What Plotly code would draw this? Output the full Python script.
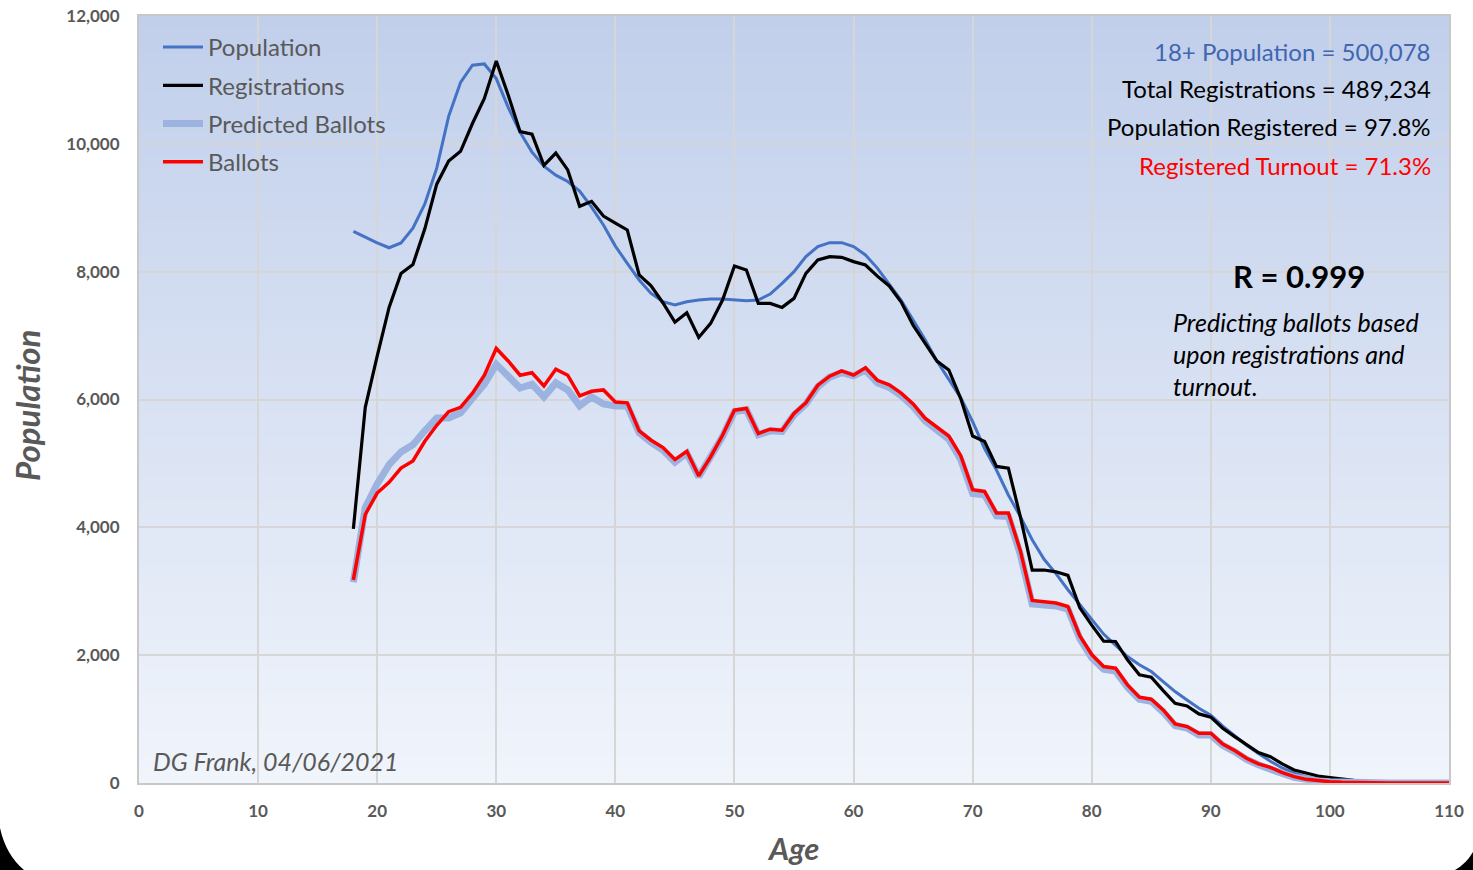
import plotly.graph_objects as go

ages = list(range(18, 111))

population = [8630, 8540, 8450, 8374, 8450, 8680, 9060, 9620, 10430, 10960,
              11230, 11250, 11020, 10570, 10180, 9870, 9650, 9510, 9410, 9260,
              9010, 8730, 8400, 8130, 7870, 7660, 7530, 7480, 7530, 7556,
              7572, 7572, 7556, 7546, 7556, 7650, 7817, 8000, 8235, 8392,
              8454, 8454, 8392, 8261, 8056, 7804, 7553, 7245, 6938, 6602,
              6323, 6026, 5652, 5232, 4897, 4506, 4170, 3807, 3500, 3276,
              3024, 2800, 2560, 2330, 2162, 1979, 1849, 1744, 1587, 1431,
              1300, 1170, 1060, 890, 740, 590, 460, 340, 235, 155,
              100, 65, 42, 26, 16, 9, 5, 3, 2, 1, 1, 0, 0]

registrations = [3977, 5877, 6680, 7441, 7972, 8112, 8670, 9369, 9732, 9883,
                 10318, 10710, 11296, 10765, 10190, 10151, 9665, 9855, 9592, 9022,
                 9100, 8870, 8760, 8653, 7948, 7780, 7510, 7210, 7358, 6971,
                 7191, 7556, 8089, 8026, 7504, 7504, 7441, 7582, 7974, 8183,
                 8235, 8224, 8157, 8104, 7930, 7776, 7525, 7161, 6882, 6602,
                 6463, 6015, 5428, 5344, 4953, 4925, 4170, 3332, 3332, 3304,
                 3248, 2740, 2470, 2220, 2214, 1927, 1692, 1655, 1446, 1248,
                 1206, 1081, 1030, 856, 726, 595, 475, 412, 298, 204,
                 151, 110, 84, 60, 40, 25, 15, 8, 5, 3, 2, 1, 0]

predicted_ballots = [3140, 4310, 4680, 4980, 5180, 5290, 5510, 5710, 5710, 5790,
                     6020, 6240, 6550, 6350, 6180, 6240, 6040, 6260, 6150, 5900,
                     6040, 5930, 5900, 5900, 5480, 5330, 5210, 5020, 5160, 4790,
                     5080, 5420, 5810, 5840, 5450, 5510, 5500, 5760, 5930, 6200,
                     6350, 6420, 6370, 6460, 6260, 6190, 6060, 5890, 5670, 5520,
                     5380, 5060, 4530, 4510, 4180, 4170, 3580, 2800, 2790, 2770,
                     2720, 2260, 1960, 1780, 1750, 1500, 1310, 1280, 1110, 900,
                     860, 750, 750, 590, 490, 370, 285, 230, 150, 90,
                     50, 30, 18, 10, 5, 3, 2, 1, 1, 0, 0, 0, 0]

ballots = [3178, 4201, 4536, 4704, 4927, 5039, 5346, 5597, 5810, 5877,
           6100, 6380, 6799, 6603, 6380, 6419, 6212, 6475, 6380, 6056,
           6128, 6150, 5962, 5948, 5509, 5363, 5248, 5060, 5190, 4804,
           5101, 5441, 5833, 5859, 5467, 5535, 5520, 5781, 5948, 6224,
           6365, 6449, 6381, 6496, 6300, 6228, 6099, 5931, 5708, 5568,
           5428, 5121, 4590, 4562, 4226, 4226, 3639, 2856, 2840, 2817,
           2761, 2300, 2010, 1822, 1796, 1535, 1342, 1311, 1144, 924,
           883, 778, 778, 611, 507, 386, 298, 245, 162, 99,
           57, 37, 21, 12, 6, 3, 2, 1, 1, 0, 0, 0, 0]

x_ticks = [0, 10, 20, 30, 40, 50, 60, 70, 80, 90, 100, 110]
y_ticks = [0, 2000, 4000, 6000, 8000, 10000, 12000]

stats_lines = ["18+ Population = 500,078", "Total Registrations = 489,234",
               "Population Registered = 97.8%", "Registered Turnout = 71.3%"]
stats_colors = ["#3f66b0", "#000000", "#000000", "#ff0000"]
note_lines = ["Predicting ballots based", "upon registrations and", "turnout."]

W, H = 1473, 870
L, R, T, B = 139, 24, 16, 87
PW, PH = W - L - R, H - T - B

def px(xp):
    return (xp - L) / PW

def py(yp):
    return (H - B - yp) / PH

FONT = "Lato"
GRAY = "#595959"

fig = go.Figure()
fig.add_trace(go.Scatter(x=ages, y=population, name="Population", mode="lines",
                         line=dict(color="#4472c4", width=3), legendgroup="a"))
fig.add_trace(go.Scatter(x=ages, y=registrations, name="Registrations", mode="lines",
                         line=dict(color="#000000", width=3.2), legendgroup="b"))
fig.add_trace(go.Scatter(x=ages, y=predicted_ballots, name="Predicted Ballots", mode="lines",
                         line=dict(color="#9cb3df", width=7), legendgroup="c"))
fig.add_trace(go.Scatter(x=ages, y=ballots, name="Ballots", mode="lines",
                         line=dict(color="#ff0000", width=3.5), legendgroup="d"))

# gradient background
shapes = []
n = 60
top = (193, 207, 235)
bot = (240, 244, 251)
for i in range(n):
    t = i / (n - 1)
    c = tuple(int(round(top[k] + (bot[k] - top[k]) * t)) for k in range(3))
    shapes.append(dict(type="rect", xref="x domain", yref="y domain",
                       x0=0, x1=1, y0=1 - (i + 1) / n, y1=1 - i / n + 0.001,
                       fillcolor="rgb(%d,%d,%d)" % c, line=dict(width=0), layer="below"))
# black frame corners (photo artifact)
shapes.append(dict(type="path", xref="paper", yref="paper",
                   path="M %f %f Q %f %f %f %f L %f %f Z" % (
                       px(0), py(828), px(6), py(855), px(24), py(870), px(0), py(870)),
                   fillcolor="#000000", line=dict(width=0), layer="above"))
shapes.append(dict(type="path", xref="paper", yref="paper",
                   path="M %f %f Q %f %f %f %f L %f %f Z" % (
                       px(1473), py(852), px(1466), py(864), px(1455), py(870), px(1473), py(870)),
                   fillcolor="#000000", line=dict(width=0), layer="above"))

ann = []
ys = [52, 88, 127, 165]
for txt, col, yy in zip(stats_lines, stats_colors, ys):
    ann.append(dict(text=txt, x=px(1433), y=py(yy), xref="paper", yref="paper",
                    xanchor="right", yanchor="middle", showarrow=False,
                    font=dict(family=FONT, size=24, color=col)))
ann.append(dict(text="<b>R = 0.999</b>", x=px(1299), y=py(276), xref="paper", yref="paper",
                xanchor="center", yanchor="middle", showarrow=False,
                font=dict(family=FONT, size=31, color="#000000")))
for txt, yy in zip(note_lines, [322, 354, 386]):
    ann.append(dict(text="<i>%s</i>" % txt, x=px(1171), y=py(yy), xref="paper", yref="paper",
                    xanchor="left", yanchor="middle", showarrow=False,
                    font=dict(family=FONT, size=25, color="#000000")))
ann.append(dict(text="<i>DG Frank, 04/06/2021</i>", x=px(151), y=py(761), xref="paper", yref="paper",
                xanchor="left", yanchor="middle", showarrow=False,
                font=dict(family=FONT, size=25, color=GRAY)))
ann.append(dict(text="<b><i>Population</i></b>", x=px(27), y=py(406), xref="paper", yref="paper",
                xanchor="center", yanchor="middle", showarrow=False, textangle=-90,
                font=dict(family=FONT, size=33, color=GRAY)))
ann.append(dict(text="<b><i>Age</i></b>", x=px(793), y=py(848), xref="paper", yref="paper",
                xanchor="center", yanchor="middle", showarrow=False,
                font=dict(family=FONT, size=31, color=GRAY)))

fig.update_layout(
    width=W, height=H, margin=dict(l=L, r=R, t=T, b=B, autoexpand=False),
    paper_bgcolor="white", plot_bgcolor="rgba(0,0,0,0)",
    shapes=shapes, annotations=ann,
    showlegend=True,
    legend=dict(x=px(158), y=py(25), xanchor="left", yanchor="top",
                bgcolor="rgba(0,0,0,0)", font=dict(family=FONT, size=24, color=GRAY),
                tracegroupgap=4, itemwidth=40, traceorder="grouped"),
    font=dict(family=FONT),
)
fig.update_xaxes(range=[0, 110], tickvals=x_ticks, ticks="", showgrid=True,
                 gridcolor="#d6d6d6", gridwidth=1.5, zeroline=False, automargin=False,
                 showline=True, linecolor="#c8c8c8", linewidth=2, mirror=True,
                 tickfont=dict(family=FONT, size=17, color=GRAY, weight="bold"),
                 ticklabelstandoff=12)
fig.update_yaxes(range=[0, 12000], tickvals=y_ticks, tickformat=",d", ticks="",
                 showgrid=True, gridcolor="#d6d6d6", gridwidth=1.5, zeroline=False, automargin=False,
                 showline=True, linecolor="#c8c8c8", linewidth=2, mirror=True,
                 tickfont=dict(family=FONT, size=17, color=GRAY, weight="bold"),
                 ticklabelstandoff=14)

fig.write_html("out.html", config={"displayModeBar": False},
               post_script="document.body.style.margin='0';")
